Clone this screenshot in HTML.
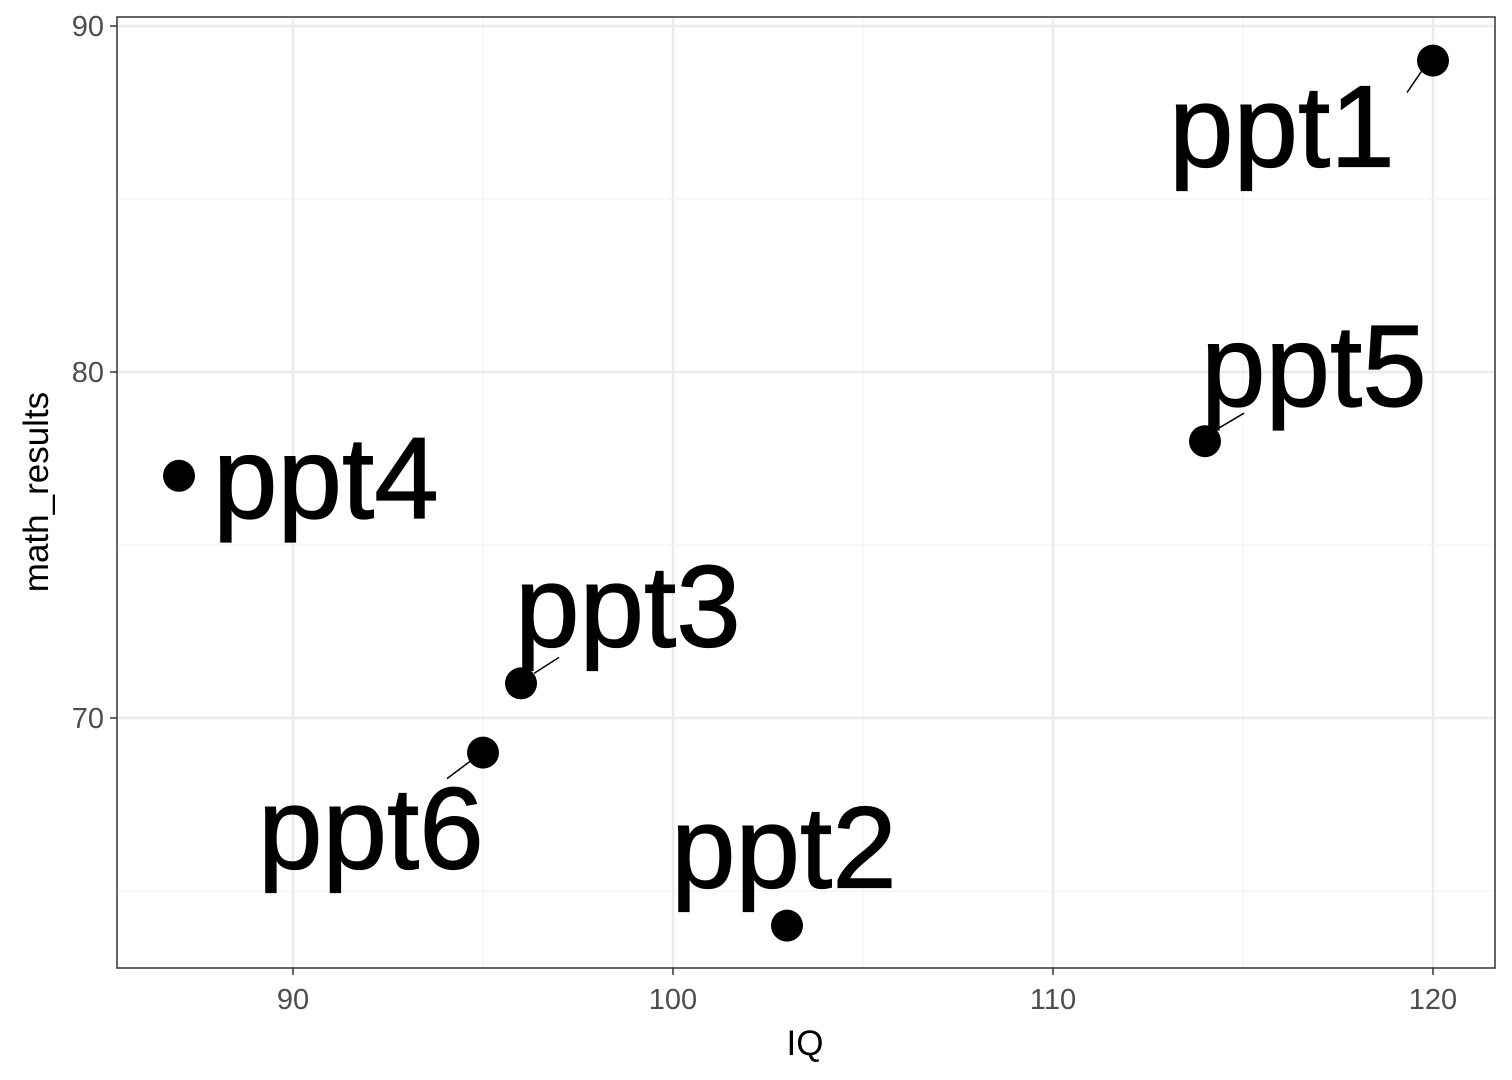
<!DOCTYPE html>
<html><head><meta charset="utf-8"><style>
body{margin:0;background:#fff;}
svg{display:block;font-family:"Liberation Sans",Arial,sans-serif;}
</style></head><body>
<svg id="chart" width="1512" height="1080">
<rect width="1512" height="1080" fill="#fff"/>
<g id="grid"></g>
<g id="marks"></g>
<rect x="117" y="17" width="1378" height="951" fill="none" stroke="#333" stroke-width="1.5"/>
<g id="axes"></g>
<text x="805" y="1055" font-size="35" text-anchor="middle">IQ</text>
<text transform="translate(48,492) rotate(-90)" font-size="35" text-anchor="middle">math_results</text>
</svg>
<script>
const names=["ppt1","ppt2","ppt3","ppt4","ppt5","ppt6"];
const iq=[120,103,96,87,114,95];
const math=[89,64,71,77,78,69];
const xTicks=[90,100,110,120];
const yTicks=[70,80,90];
const xMinor=[95,105,115];
const yMinor=[65,75,85];
// label offsets (pixels) relative to point: [dx, dy baseline]
const labelDx=[-264,-116,-6,34,-4,-225];
const labelDy=[106,-38,-37,42,-35,116];
const segs=[[-26,32,-11,10],[0,0,0,0],[13,-10,38,-26],[0,0,0,0],[12,-12,39,-28],[-36,26,-12,8]];
function X(v){return 293+(v-90)*38;}
function Y(v){return 26+(90-v)*34.6;}
const NS="http://www.w3.org/2000/svg";
function mk(tag,attrs,parent){const e=document.createElementNS(NS,tag);for(const k in attrs)e.setAttribute(k,attrs[k]);parent.appendChild(e);return e;}
const grid=document.getElementById('grid'),marks=document.getElementById('marks'),axes=document.getElementById('axes');
xMinor.forEach(v=>{const l=mk('line',{x1:X(v),x2:X(v),y1:17,y2:968,stroke:'#f2f2f2','stroke-width':1.2},grid);

});
yMinor.forEach(v=>{const l=mk('line',{x1:117,x2:1495,y1:Y(v),y2:Y(v),stroke:'#f2f2f2','stroke-width':1.2},grid);

});
xTicks.forEach(v=>{const l=mk('line',{x1:X(v),x2:X(v),y1:17,y2:968,stroke:'#ebebeb','stroke-width':2.5},grid);


const t=mk('line',{x1:X(v),x2:X(v),y1:968,y2:975,stroke:'#333','stroke-width':1.5},axes);


const tx=mk('text',{x:X(v),y:1009,'font-size':29,fill:'#4d4d4d','text-anchor':'middle'},axes);tx.textContent=v;

});
yTicks.forEach(v=>{const l=mk('line',{x1:117,x2:1495,y1:Y(v),y2:Y(v),stroke:'#ebebeb','stroke-width':2.5},grid);


const t=mk('line',{x1:110,x2:117,y1:Y(v),y2:Y(v),stroke:'#333','stroke-width':1.5},axes);


const tx=mk('text',{x:104,y:Y(v)+10,'font-size':29,fill:'#4d4d4d','text-anchor':'end'},axes);tx.textContent=v;

});
names.forEach((n,i)=>{const px=X(iq[i]),py=Y(math[i]);const s=segs[i];
if(s[0]||s[2]){const l=mk('line',{x1:px+s[0],y1:py+s[1],x2:px+s[2],y2:py+s[3],stroke:'#000','stroke-width':1.5},marks);

}
const c=mk('circle',{cx:px,cy:py,r:16,fill:'#000'},marks);


const t=mk('text',{x:px+labelDx[i],y:py+labelDy[i],'font-size':116,fill:'#000',stroke:'#000','stroke-width':1.2},marks);t.textContent=n;

});
</script>
</body></html>
